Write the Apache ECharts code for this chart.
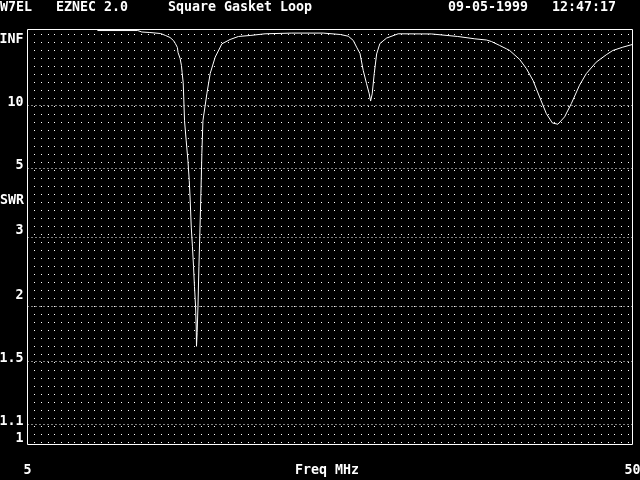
<!DOCTYPE html>
<html>
<head>
<meta charset="utf-8">
<script src="https://cdn.jsdelivr.net/npm/echarts@6/dist/echarts.min.js"></script>
<style>
html,body{margin:0;padding:0;background:#000;}
#chart{width:640px;height:480px;}
</style>
</head>
<body>
<div id="chart"></div>
<script>
// Frequency sweep (MHz) and SWR
var freqMHz = [10.2, 13.2, 13.5, 14.1, 14.9, 15.25, 15.6, 15.85, 16.0, 16.15, 16.2, 16.35, 16.45, 16.5, 16.58, 16.62, 16.68, 16.8, 16.93, 17.03, 17.1, 17.18, 17.27, 17.35, 17.42, 17.5, 17.55, 17.57, 17.62, 17.68, 17.75, 17.82, 17.9, 17.97, 18.05, 18.34, 18.59, 18.96, 19.46, 20.07, 20.69, 21.56, 22.67, 24.66, 27.0, 28.27, 28.86, 29.23, 29.48, 29.73, 29.97, 30.22, 30.42, 30.52, 30.64, 30.79, 30.97, 31.21, 31.71, 32.57, 35.05, 37.0, 38.27, 39.14, 39.51, 40.12, 40.62, 40.86, 41.61, 42.11, 42.6, 43.09, 43.59, 44.04, 44.45, 44.95, 45.45, 46.06, 46.56, 47.3, 48.05, 48.54, 49.28, 50.0];
var swr = [800, 800, 330, 275, 205, 140, 103, 75, 58, 45, 35, 27.7, 22, 18.3, 14.7, 11.3, 8.1, 6.5, 5.35, 4.5, 3.87, 3.2, 2.82, 2.5, 2.23, 2.0, 1.79, 1.62, 1.74, 2.0, 2.5, 3.08, 4.07, 5.7, 8.1, 11.9, 17.9, 29, 57, 82, 118, 138, 192, 230, 230, 165, 123, 75, 46, 33.7, 19.3, 14.3, 11.9, 10.6, 11.9, 17.8, 33, 58, 96, 192, 185, 118, 88, 78, 68, 51, 42, 38.6, 26.7, 20.2, 15.3, 11.3, 8.87, 7.88, 7.76, 8.5, 10.2, 13.9, 17.8, 24.4, 31.9, 38.6, 46, 54.5];

var swrTicks = [1, 1.1, 1.5, 2, 3, 5, 10, Infinity];
var swrTickLabels = ['1', '1.1', '1.5', '2', '3', '5', '10', 'INF'];
var freqTicks = [5, 50];
var headerTexts = ['W7EL', 'EZNEC 2.0', 'Square Gasket Loop', '09-05-1999', '12:47:17'];

// SWR axis is linear in reflection coefficient
function rho(s) { return s === Infinity ? 1 : (s - 1) / (s + 1); }

var tickRho = swrTicks.map(rho);
var seriesData = freqMHz.map(function (f, i) { return [f, rho(swr[i])]; });

var FONT = 'DejaVu Sans Mono';
// per-label vertical nudges (px, +down)
var labelShift = [-6, -3, -3, -11, -6, -2, -2, 10];
var rich = {};
labelShift.forEach(function (d, i) {
  rich['l' + i] = {
    color: '#fff', fontFamily: FONT, fontWeight: 'bold', fontSize: 13.3,
    padding: d >= 0 ? [2 * d, 0, 0, 0] : [0, 0, -2 * d, 0]
  };
});

var headerX = [0, 56, 168, 448, 552];
var titles = headerTexts.map(function (t, i) {
  return {
    text: t, left: headerX[i], top: 1, padding: 0,
    textStyle: { color: '#fff', fontFamily: FONT, fontWeight: 'bold', fontSize: 13.3 }
  };
});
titles.push({
  text: 'SWR', left: 0, top: 194, padding: 0,
  textStyle: { color: '#fff', fontFamily: FONT, fontWeight: 'bold', fontSize: 13.3 }
});

var chart = echarts.init(document.getElementById('chart'), null, { renderer: 'canvas' });
chart.setOption({
  backgroundColor: '#000',
  animation: false,
  title: titles,
  grid: [
    { left: 27.5, top: 29.5, width: 605, height: 415, show: true, borderColor: '#fff', borderWidth: 1, backgroundColor: 'transparent', z: 3, containLabel: false, outerBoundsMode: 'none' },
    { left: 34, top: 34, width: 595, height: 408, show: false, containLabel: false, outerBoundsMode: 'none' }
  ],
  xAxis: [
    {
      gridIndex: 0, type: 'value', min: 5, max: 50,
      axisLine: { show: false }, axisTick: { show: false }, splitLine: { show: false },
      axisLabel: { customValues: freqTicks, color: '#fff', fontFamily: FONT, fontWeight: 'bold', fontSize: 13.3, margin: 20 },
      name: 'Freq MHz', nameLocation: 'middle', nameGap: 20, nameMoveOverlap: false,
      nameTextStyle: { color: '#fff', fontFamily: FONT, fontWeight: 'bold', fontSize: 13.3, verticalAlign: 'top', padding: [0, 6, 0, 0] }
    },
    {
      gridIndex: 1, type: 'value', min: 0, max: 1,
      axisLine: { show: false }, axisTick: { show: false }, axisLabel: { show: false }, splitLine: { show: false }
    }
  ],
  yAxis: [
    {
      gridIndex: 0, type: 'value', min: 0, max: 1,
      axisLine: { show: false },
      axisTick: { show: false, customValues: tickRho.slice(1, 7) },
      splitLine: { show: true, lineStyle: { color: '#fff', width: 1, type: [1, 3] } },
      axisLabel: {
        customValues: tickRho, margin: 4,
        formatter: function (v) {
          for (var i = 0; i < tickRho.length; i++) {
            if (Math.abs(tickRho[i] - v) < 1e-6) return '{l' + i + '|' + swrTickLabels[i] + '}';
          }
          return '';
        },
        rich: rich
      }
    },
    {
      gridIndex: 1, type: 'value', min: 0, max: 51, interval: 1,
      axisLine: { show: false }, axisTick: { show: false }, axisLabel: { show: false },
      splitLine: { show: true, lineStyle: { color: '#fff', width: 1, type: [1, 6, 1, 6, 1, 5] } }
    }
  ],
  series: [{
    type: 'line',
    xAxisIndex: 0, yAxisIndex: 0,
    data: seriesData,
    showSymbol: false,
    symbol: 'none',
    smooth: false,
    lineStyle: { color: '#fff', width: 1 },
    z: 5
  }]
});
</script>
</body>
</html>
